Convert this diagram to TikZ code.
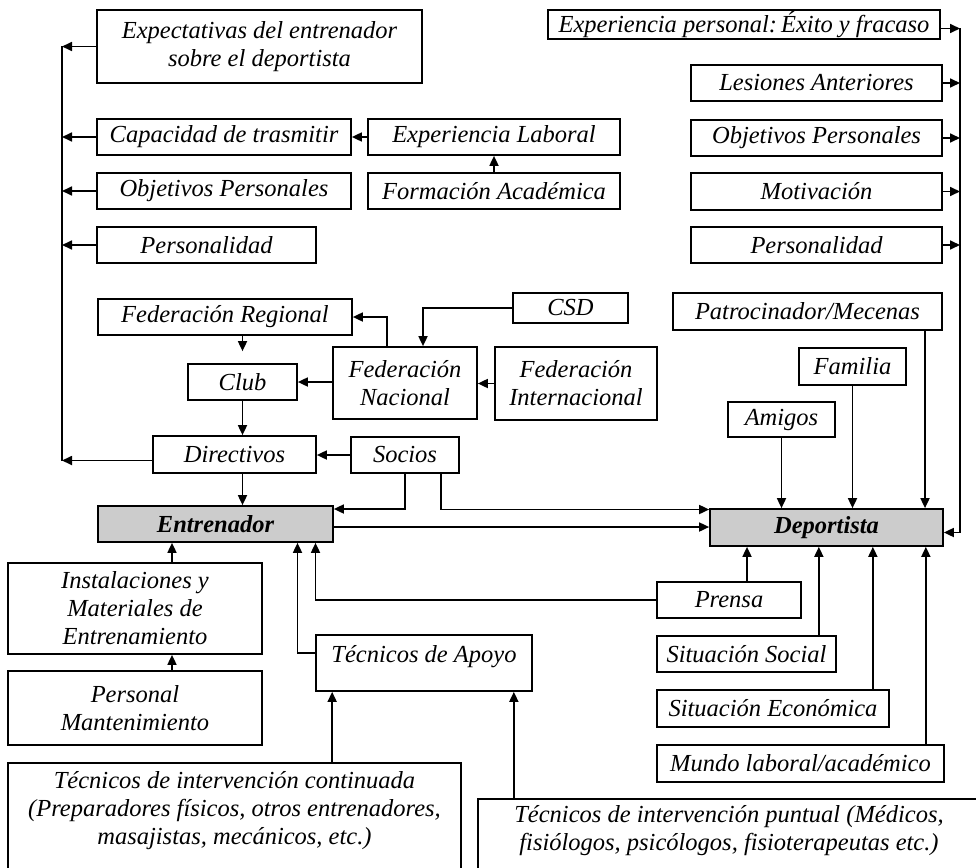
\documentclass[tikz,border=0pt]{standalone}
\usepackage{fontspec}
\setmainfont{Liberation Serif}
\usetikzlibrary{arrows.meta}
\tikzset{
  box/.style={draw, line width=1.7pt, inner sep=0pt, align=center, font=\fontsize{24.5}{28}\selectfont\itshape},
  keybox/.style={box, fill=black!20, font=\fontsize{24.5}{28}\selectfont\bfseries\itshape},
  arr/.style={line width=1.7pt, -{Triangle[length=10pt,width=9pt]}},
  ln/.style={line width=1.7pt},
}
\begin{document}
\begin{tikzpicture}[x=1pt,y=-1pt]
\useasboundingbox (0,0) rectangle (976,867);
\coordinate (L) at (62,0);
\coordinate (R) at (960,0);
% left column (coach)
\node[box, minimum width=325pt, minimum height=73pt] (expect) at (259.5,46.5) {Expectativas del entrenador\\sobre el deportista};
\node[box, minimum width=254pt, minimum height=36pt] (capac) at (224,137) {Capacidad de trasmitir};
\node[box, minimum width=252pt, minimum height=36pt] (explab) at (494,137) {Experiencia Laboral};
\node[box, minimum width=254pt, minimum height=36pt] (objL) at (224,191) {Objetivos Personales};
\node[box, minimum width=252pt, minimum height=36pt] (formac) at (494,191) {Formación Académica};
\node[box, minimum width=219pt, minimum height=36pt] (persL) at (206.5,245) {Personalidad};
% right column (athlete)
\node[box, minimum width=392pt, minimum height=29pt] (expP) at (744,24.5) {Experiencia personal:\,Éxito y fracaso};
\node[box, minimum width=251pt, minimum height=36pt] (lesion) at (816.5,83) {Lesiones Anteriores};
\node[box, minimum width=251pt, minimum height=36pt] (objR) at (816.5,138) {Objetivos Personales};
\node[box, minimum width=251pt, minimum height=37pt] (motiv) at (816.5,191.5) {Motivación};
\node[box, minimum width=251pt, minimum height=36pt] (persR) at (816.5,245) {Personalidad};
% federations
\node[box, minimum width=254pt, minimum height=36pt] (fedreg) at (225,317) {Federación Regional};
\node[box, minimum width=115pt, minimum height=30pt] (csd) at (570.5,308) {CSD};
\node[box, minimum width=269pt, minimum height=37pt] (patro) at (807.5,311.5) {Patrocinador/Mecenas};
\node[box, minimum width=109pt, minimum height=36pt] (club) at (242.5,382) {Club};
\node[box, minimum width=144pt, minimum height=72pt] (fednac) at (405,383) {Federación\\Nacional};
\node[box, minimum width=162pt, minimum height=73pt] (fedint) at (576,383.5) {Federación\\Internacional};
\node[box, minimum width=107pt, minimum height=37pt] (familia) at (852.5,366.5) {Familia};
\node[box, minimum width=107pt, minimum height=35pt] (amigos) at (781.5,419.5) {Amigos};
\node[box, minimum width=163pt, minimum height=37pt] (direc) at (234.5,454.5) {Directivos};
\node[box, minimum width=108pt, minimum height=36pt] (socios) at (405,455) {Socios};
% main actors
\node[keybox, minimum width=235pt, minimum height=36pt] (entren) at (215.5,524) {Entrenador};
\node[keybox, minimum width=233pt, minimum height=37pt] (deport) at (826.5,527.5) {Deportista};
% lower left
\node[box, minimum width=254pt, minimum height=91pt] (instal) at (135,608.5) {Instalaciones y\\Materiales de\\Entrenamiento};
\node[box, minimum width=254pt, minimum height=74pt] (persM) at (135,708) {Personal\\Mantenimiento};
\node[box, minimum width=216pt, minimum height=56pt, text height=18pt, text depth=20pt] (apoyo) at (424,663) {Técnicos de Apoyo};
% lower right
\node[box, minimum width=144pt, minimum height=36pt] (prensa) at (729,600) {Prensa};
\node[box, minimum width=179pt, minimum height=36pt] (sitsoc) at (746.5,654) {Situación Social};
\node[box, minimum width=232pt, minimum height=37pt] (siteco) at (773,708.5) {Situación Económica};
\node[box, minimum width=287pt, minimum height=37pt] (mundo) at (800.5,763.5) {Mundo laboral/académico};
% bottom
\node[box, anchor=north, minimum width=453pt, inner ysep=8.5pt] (tecCont) at (234.5,762) {Técnicos de intervención continuada\\(Preparadores físicos, otros entrenadores,\\masajistas, mecánicos, etc.)\\ \strut};
\node[box, anchor=north, minimum width=502pt, inner ysep=6.5pt] (tecPunt) at (729,798) {Técnicos de intervención puntual (Médicos,\\fisiólogos, psicólogos, fisioterapeutas etc.)\\ \strut};

% left collector
\draw[ln] (expect.west -| L) -- ([yshift=-6pt]direc.west -| L);
\draw[arr] (expect.west) -- (expect.west -| L);
\draw[arr] (capac.west) -- (capac.west -| L);
\draw[arr] (objL.west) -- (objL.west -| L);
\draw[arr] (persL.west) -- (persL.west -| L);
\draw[arr] ([yshift=-6pt]direc.west) -- ([yshift=-6pt]direc.west -| L);
\draw[arr] (explab.west) -- (capac.east);
\draw[arr] (formac.north) -- (explab.south);
% right collector
\draw[ln] ([yshift=-4pt]expP.east -| R) -- ([yshift=-5pt]deport.east -| R);
\draw[arr] ([yshift=-4pt]expP.east) -- ([yshift=-4pt]expP.east -| R);
\draw[arr] (lesion.east) -- (lesion.east -| R);
\draw[arr] (objR.east) -- (objR.east -| R);
\draw[arr] (motiv.east) -- (motiv.east -| R);
\draw[arr] (persR.east) -- (persR.east -| R);
\draw[arr] ([yshift=-5pt]deport.east -| R) -- ([yshift=-5pt]deport.east);
% federations
\draw[arr] ([xshift=-18pt]fednac.north) |- (fedreg.east);
\draw[arr, shorten >=12pt] (club.north |- fedreg.south) -- (club.north);
\draw[arr] (fednac.west |- club.east) -- (club.east);
\draw[arr] (csd.west) -| ([xshift=18pt]fednac.north);
\draw[arr] (fedint.west) -- (fedint.west -| fednac.east);
\draw[arr] (club.south) -- (club.south |- direc.north);
\draw[arr] (socios.west) -- (socios.west -| direc.east);
\draw[arr] (club.south |- direc.south) -- (club.south |- entren.north);
% socios to actors
\draw[arr] (socios.south) |- ([yshift=15pt]entren.east);
\draw[arr] ([xshift=36pt]socios.south) |- ([yshift=18pt]deport.west);
\draw[arr] ([yshift=-3pt]entren.east) -- ([yshift=-3pt]entren.east -| deport.west);
% athlete influences
\draw[arr] (amigos.south) -- (amigos.south |- deport.north);
\draw[arr] (familia.south) -- (familia.south |- deport.north);
\draw[arr] ([xshift=117.5pt]patro.south) -- ([xshift=117.5pt]patro.south |- deport.north);
\draw[arr] ([xshift=18pt]prensa.north) -- ([xshift=18pt]prensa.north |- deport.south);
\draw[arr] ([xshift=-18pt]sitsoc.north east) -- ([xshift=-18pt]sitsoc.north east |- deport.south);
\draw[arr] ([xshift=-17pt]siteco.north east) -- ([xshift=-17pt]siteco.north east |- deport.south);
\draw[arr] ([xshift=-19pt]mundo.north east) -- ([xshift=-19pt]mundo.north east |- deport.south);
% coach influences
\draw[arr] (prensa.west) -| ([xshift=100pt]entren.south);
\draw[arr] ([yshift=10pt]apoyo.west) -| ([xshift=82pt]entren.south);
\draw[arr] ([xshift=37pt]instal.north) -- ([xshift=37pt]instal.north |- entren.south);
\draw[arr] ([xshift=37pt]persM.north) -- ([xshift=37pt]persM.north |- instal.south);
\draw[arr] ([xshift=17pt]apoyo.south west |- tecCont.north) -- ([xshift=17pt]apoyo.south west);
\draw[arr] ([xshift=-19pt]apoyo.south east |- tecPunt.north) -- ([xshift=-19pt]apoyo.south east);
\end{tikzpicture}
\end{document}
